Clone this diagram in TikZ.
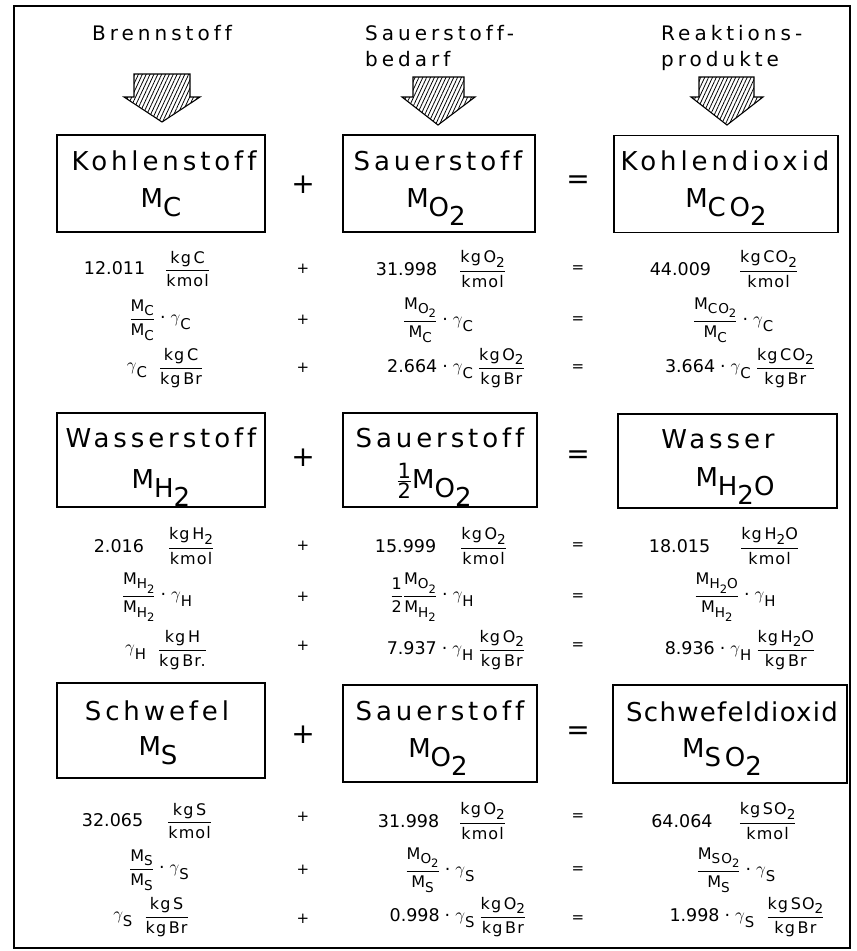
\documentclass[tikz,border=0pt]{standalone}
\usepackage{amsmath}
\usepackage{graphicx}
\usepackage{fontspec}
\setmainfont{DejaVu Sans}[Ligatures=NoCommon]
\usetikzlibrary{patterns.meta}
\newfontfamily\zzHdFam{DejaVu Sans}[LetterSpace=20,Ligatures=NoCommon]
\newfontfamily\zzBxFam{DejaVu Sans}[LetterSpace=15,Ligatures=NoCommon]
\newfontfamily\zzBxTight{DejaVu Sans}[LetterSpace=5,Ligatures=NoCommon]
\newfontfamily\zzDtFam{DejaVu Sans}[LetterSpace=0,Ligatures=NoCommon]
\newfontfamily\zzFrFam{DejaVu Sans}[LetterSpace=7,Ligatures=NoCommon]
\newcommand\zzHd{\zzHdFam\fontsize{20}{22}\selectfont}
\newcommand\zzBx{\zzBxFam\fontsize{26}{30}\selectfont}
\newcommand\zzDt{\zzDtFam\fontsize{17.5}{20}\selectfont}
\newcommand\zzFr{\zzFrFam\fontsize{16}{18}\selectfont}
\newcommand\xlo[1]{\raisebox{-0.3em}{\scalebox{0.85}{#1}}}
\newcommand\xblo[1]{\raisebox{-0.36em}{#1}}
\newcommand\xfr[2]{$\genfrac{}{}{1pt}{0}{\hbox{\zzFr #1}}{\hbox{\zzFr #2}}$}
\newcommand\xg{\raisebox{0.1em}{$\gamma$}}
\newcommand\xhalf{$\genfrac{}{}{1pt}{1}{\hbox{\zzBxFam\fontsize{21}{21}\selectfont 1}}{\hbox{\zzBxFam\fontsize{21}{21}\selectfont 2}}$}
\newcommand\sdot{\hspace{5pt}·\hspace{5pt}}
\tikzset{
  frame/.style={draw, line width=1.6pt},
  bx/.style={draw, line width=1.3pt, inner sep=0pt, rectangle},
  bxt/.style={inner sep=0pt, font=\zzBx, anchor=base},
  hdt/.style={inner sep=0pt, font=\zzHd, anchor=base},
  dat/.style={inner sep=0pt, font=\zzDt, anchor=center},
  bsign/.style={inner sep=0pt, font=\fontsize{28}{30}\selectfont},
  dsign/.style={inner sep=0pt, font=\fontsize{15}{16}\selectfont},
  harr/.style={draw, line width=1.1pt, pattern={Lines[angle=65,distance=3.5pt,line width=0.8pt]}}
}
\begin{document}
\begin{tikzpicture}[x=1pt,y=-1pt]
\useasboundingbox (0,0) rectangle (857,951);
\draw[frame] (14,6) rectangle (850,948);

% headers
\node[hdt, anchor=base] (h1) at (162,40) {Brennstoff};
\node[hdt, anchor=base west] (h2a) at (365,40) {Sauerstoff-};
\node[hdt, anchor=base west] (h2b) at (365,66) {bedarf};
\node[hdt, anchor=base west] (h3a) at (661,40) {Reaktions-};
\node[hdt, anchor=base west] (h3b) at (661,66) {produkte};

% hatched arrows
\draw[harr] (134,74) -- (190,74) -- (190,97) -- (200,97) -- (162,122) -- (124,97) -- (134,97) -- cycle;
\draw[harr] (413,77) -- (464,77) -- (464,97) -- (475,97) -- (438,125) -- (402,97) -- (413,97) -- cycle;
\draw[harr] (699,77) -- (754,77) -- (754,97) -- (763,97) -- (727,125) -- (691,97) -- (699,97) -- cycle;

% ---------- Kohlenstoff block ----------
\node[bx, minimum width=208pt, minimum height=97pt] (bC) at (161,183.5) {};
\node[bxt] (bCa) at (164,170) {Kohlenstoff};
\node[bxt] (bCb) at (161,207) {M\xblo{C}};
\node[bsign] (pC) at (303,185) {+};
\node[bx, minimum width=192pt, minimum height=97pt] (bO1) at (439,183.5) {};
\node[bxt] (bO1a) at (438,170) {Sauerstoff};
\node[bxt] (bO1b) at (436,207) {M\xblo{O\xblo{2}}};
\node[bsign] (eC) at (578,182) {=};
\node[bx, minimum width=224pt, minimum height=97pt] (bCO) at (726,184) {};
\node[bxt] (bCOa) at (725,170) {Kohlendioxid};
\node[bxt] (bCOb) at (726,207) {M\xblo{CO\xblo{2}}};

\node[dat] (c1l) at (147,269) {12.011\hspace{20pt}\xfr{kg\,C}{kmol}};
\node[dsign] (c1p) at (303,269) {+};
\node[dat] (c1m) at (441,269) {31.998\hspace{22pt}\xfr{kg\,O\xlo{2}}{kmol}};
\node[dsign] (c1e) at (578,269) {=};
\node[dat] (c1r) at (724,269) {44.009\hspace{28pt}\xfr{kg\,CO\xlo{2}}{kmol}};

\node[dat] (c2l) at (160,320) {\xfr{M\xlo{C}}{M\xlo{C}}\sdot \xg\xlo{C}};
\node[dsign] (c2p) at (303,320) {+};
\node[dat] (c2m) at (438,320) {\xfr{M\xlo{O\xlo{2}}}{M\xlo{C}}\sdot \xg\xlo{C}};
\node[dsign] (c2e) at (578,320) {=};
\node[dat] (c2r) at (733,320) {\xfr{M\xlo{CO\xlo{2}}}{M\xlo{C}}\sdot \xg\xlo{C}};

\node[dat] (c3l) at (165,368) {\xg\xlo{C}\hspace{12pt}\xfr{kg\,C}{kg\,Br}};
\node[dsign] (c3p) at (303,368) {+};
\node[dat] (c3m) at (456,368) {2.664\sdot \xg\xlo{C}\hspace{5pt}\xfr{kg\,O\xlo{2}}{kg\,Br}};
\node[dsign] (c3e) at (578,368) {=};
\node[dat] (c3r) at (740,368) {3.664\sdot \xg\xlo{C}\hspace{5pt}\xfr{kg\,CO\xlo{2}}{kg\,Br}};

% ---------- Wasserstoff block ----------
\node[bx, minimum width=208pt, minimum height=94pt] (bH) at (161,460) {};
\node[bxt] (bHa) at (161,447) {Wasserstoff};
\node[bxt] (bHb) at (161,488) {M\xblo{H\xblo{2}}};
\node[bsign] (pH) at (303,458) {+};
\node[bx, minimum width=194pt, minimum height=94pt] (bO2) at (440,460) {};
\node[bxt] (bO2a) at (440,447) {Sauerstoff};
\node[bxt] (bO2b) at (434,488) {\xhalf M\xblo{O\xblo{2}}};
\node[bsign] (eH) at (578,457) {=};
\node[bx, minimum width=219pt, minimum height=94pt] (bW) at (727.5,461) {};
\node[bxt] (bWa) at (718,448) {Wasser};
\node[bxt] (bWb) at (735,486) {M\xblo{H\xblo{2}O}};

\node[dat] (h1l) at (154,546) {2.016\hspace{24pt}\xfr{kg\,H\xlo{2}}{kmol}};
\node[dsign] (h1p) at (303,546) {+};
\node[dat] (h1m) at (441,546) {15.999\hspace{24pt}\xfr{kg\,O\xlo{2}}{kmol}};
\node[dsign] (h1e) at (578,546) {=};
\node[dat] (h1r) at (724,546) {18.015\hspace{30pt}\xfr{kg\,H\xlo{2}O}{kmol}};

\node[dat] (h2l) at (157,597) {\xfr{M\xlo{H\xlo{2}}}{M\xlo{H\xlo{2}}}\sdot \xg\xlo{H}};
\node[dsign] (h2p) at (303,597) {+};
\node[dat] (h2m) at (432,597) {\xfr{1}{2}\xfr{M\xlo{O\xlo{2}}}{M\xlo{H\xlo{2}}}\sdot \xg\xlo{H}};
\node[dsign] (h2e) at (578,597) {=};
\node[dat] (h2r) at (735,597) {\xfr{M\xlo{H\xlo{2}O}}{M\xlo{H\xlo{2}}}\sdot \xg\xlo{H}};

\node[dat] (h3l) at (166,650) {\xg\xlo{H}\hspace{12pt}\xfr{kg\,H}{kg\,Br.}};
\node[dsign] (h3p) at (303,646) {+};
\node[dat] (h3m) at (456,650) {7.937\sdot \xg\xlo{H}\hspace{5pt}\xfr{kg\,O\xlo{2}}{kg\,Br}};
\node[dsign] (h3e) at (578,646) {=};
\node[dat] (h3r) at (740,650) {8.936\sdot \xg\xlo{H}\hspace{5pt}\xfr{kg\,H\xlo{2}O}{kg\,Br}};

% ---------- Schwefel block ----------
\node[bx, minimum width=208pt, minimum height=95pt] (bS) at (161,730.5) {};
\node[bxt] (bSa) at (157,720) {Schwefel};
\node[bxt] (bSb) at (158,755) {M\xblo{S}};
\node[bsign] (pS) at (303,735) {+};
\node[bx, minimum width=194pt, minimum height=97pt] (bO3) at (440,733.5) {};
\node[bxt] (bO3a) at (440,720) {Sauerstoff};
\node[bxt] (bO3b) at (438,757) {M\xblo{O\xblo{2}}};
\node[bsign] (eS) at (578,733) {=};
\node[bx, minimum width=234pt, minimum height=98pt] (bSO) at (730,734) {};
\node[bxt, font=\zzBxTight\fontsize{26}{30}\selectfont] (bSOa) at (732,721) {Schwefeldioxid};
\node[bxt] (bSOb) at (722,757) {M\xblo{SO\xblo{2}}};

\node[dat] (s1l) at (147,821) {32.065\hspace{24pt}\xfr{kg\,S}{kmol}};
\node[dsign] (s1p) at (303,817) {+};
\node[dat] (s1m) at (442,821) {31.998\hspace{20pt}\xfr{kg\,O\xlo{2}}{kmol}};
\node[dsign] (s1e) at (578,817) {=};
\node[dat] (s1r) at (724,821) {64.064\hspace{26pt}\xfr{kg\,SO\xlo{2}}{kmol}};

\node[dat] (s2l) at (159,870) {\xfr{M\xlo{S}}{M\xlo{S}}\sdot \xg\xlo{S}};
\node[dsign] (s2p) at (303,870) {+};
\node[dat] (s2m) at (440,870) {\xfr{M\xlo{O\xlo{2}}}{M\xlo{S}}\sdot \xg\xlo{S}};
\node[dsign] (s2e) at (578,870) {=};
\node[dat] (s2r) at (736,870) {\xfr{M\xlo{SO\xlo{2}}}{M\xlo{S}}\sdot \xg\xlo{S}};

\node[dat] (s3l) at (151,917) {\xg\xlo{S}\hspace{12pt}\xfr{kg\,S}{kg\,Br}};
\node[dsign] (s3p) at (303,919) {+};
\node[dat] (s3m) at (458,917) {0.998\sdot \xg\xlo{S}\hspace{5pt}\xfr{kg\,O\xlo{2}}{kg\,Br}};
\node[dsign] (s3e) at (578,919) {=};
\node[dat] (s3r) at (747,917) {1.998\sdot \xg\xlo{S}\hspace{12pt}\xfr{kg\,SO\xlo{2}}{kg\,Br}};
\end{tikzpicture}
\end{document}
